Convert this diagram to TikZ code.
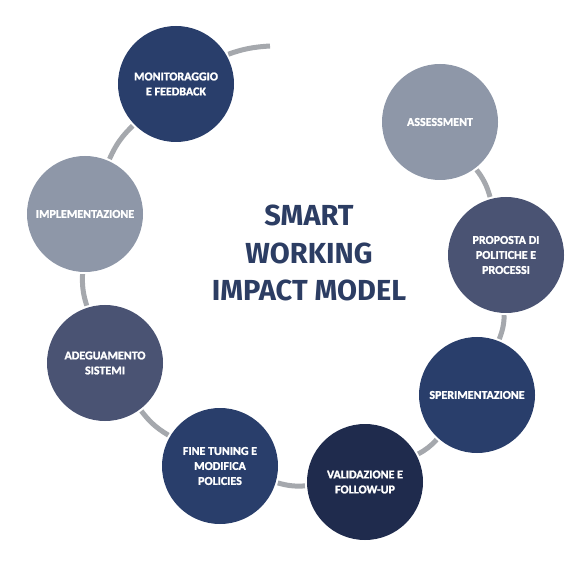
\documentclass[tikz,border=0pt]{standalone}
\usepackage{fontspec}
\newfontfamily\titlefont{Fira Sans}
\newfontfamily\phasefont[BoldFont={Carlito Bold}, BoldFeatures={FakeBold=1.6}]{Carlito}
\usepackage{tikz}
\definecolor{navy}{HTML}{293E6B}
\definecolor{deepnavy}{HTML}{1F2B4D}
\definecolor{slate}{HTML}{4A5373}
\definecolor{mist}{HTML}{8E97A8}
\definecolor{track}{HTML}{A5A8AD}
\definecolor{ink}{HTML}{2C3D63}
\tikzset{every edge/.style={shorten >=2pt, shorten <=2pt, draw=track, line width=5pt}}
\tikzset{phase/.style={circle, minimum size=116pt, inner sep=0pt, text=white, align=center,
    font=\phasefont\bfseries\fontsize{12}{15}\selectfont}}

\begin{document}
\begin{tikzpicture}[x=1pt, y=1pt]
  \useasboundingbox (0,0) rectangle (586,568);

  \node[phase, fill=navy] at (176, 484) (mon) {MONITORAGGIO\\E FEEDBACK};
  \node[phase, fill=mist] at (440, 446) (ass) {ASSESSMENT};
  \node[phase, fill=slate] at (506, 313) (pro) {PROPOSTA DI\\POLITICHE E\\PROCESSI};
  \node[phase, fill=navy] at (477, 173) (spe) {SPERIMENTAZIONE};
  \node[phase, fill=deepnavy] at (365, 86) (val) {VALIDAZIONE E\\FOLLOW-UP};
  \node[phase, fill=navy] at (220, 102) (fin) {FINE TUNING E\\MODIFICA\\POLICIES};
  \node[phase, fill=slate] at (105, 205) (ade) {ADEGUAMENTO\\SISTEMI};
  \node[phase, fill=mist] at (85, 354) (imp) {IMPLEMENTAZIONE};
  \coordinate (tail) at (270, 522);

  \node[text=ink, align=center, font=\titlefont\bfseries\fontsize{29}{37.5}\selectfont]
    at (309, 315) (title) {SMART\\WORKING\\IMPACT MODEL};

  \draw (ass) edge[bend left=11] (pro);
  \draw (pro) edge[bend left=10] (spe);
  \draw (spe) edge[bend left=10] (val);
  \draw (val) edge[bend left=10] (fin);
  \draw (fin) edge[bend left=11] (ade);
  \draw (ade) edge[bend left=10] (imp);
  \draw (imp) edge[bend left=11] (mon);
  \draw (mon) edge[bend left=8, shorten >=0pt] (tail);
\end{tikzpicture}
\end{document}
